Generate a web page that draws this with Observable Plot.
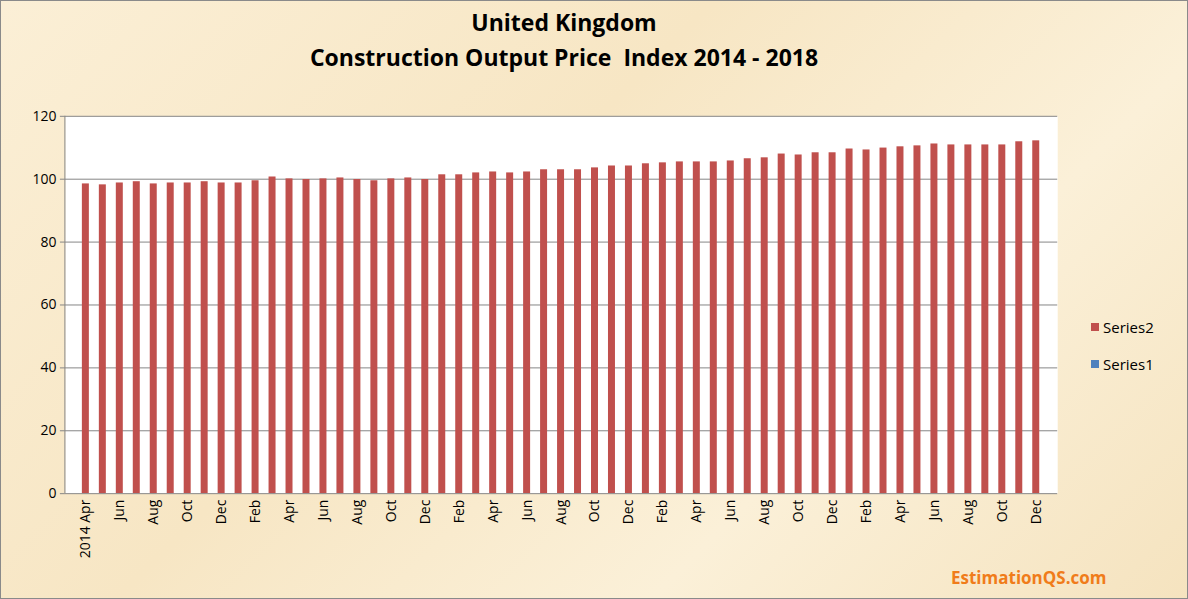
<!DOCTYPE html>
<html><head><meta charset="utf-8">
<script src="https://cdn.jsdelivr.net/npm/d3@7"></script>
<script src="https://cdn.jsdelivr.net/npm/@observablehq/plot@0.6"></script>
<style>
body{margin:0;background:#fff;}
#wrap{position:relative;width:1186px;height:597px;border:1px solid #8a8a8a;background:linear-gradient(135deg,#fbefd6,#f7e6c4 40%,#fbf0d8 70%,#f5e3bf);font-family:"Open Sans",sans-serif;overflow:hidden}
#title{position:absolute;top:4px;left:0;width:1126px;text-align:center;font-weight:bold;font-size:23px;line-height:35px;color:#000}
#legend{position:absolute;left:1090px;top:316px;font-size:15px}
#legend div{display:flex;align-items:center;margin-bottom:17px}
#legend span.sw{display:inline-block;width:8px;height:8px;margin-right:4px}
#credit{position:absolute;left:950px;top:565px;color:#f07c1a;font-weight:bold;font-size:17px}
#chart{position:absolute;left:0;top:0}
</style></head><body>
<div id="wrap">
<div id="chart"></div>
<div id="title">United Kingdom<br>Construction Output Price &nbsp;Index 2014 - 2018</div>
<div id="legend"><div><span class="sw" style="background:#c0504d"></span>Series2</div><div><span class="sw" style="background:#4f81bd"></span>Series1</div></div>
<div id="credit">EstimationQS.com</div>
</div>
<script>
const monthNames = ["Jan","Feb","Mar","Apr","May","Jun","Jul","Aug","Sep","Oct","Nov","Dec"];
const firstLabel = "2014 Apr";
const values = [98.5,98.2,98.8,99.2,98.5,98.8,98.8,99.2,98.8,98.8,99.5,100.7,100.1,99.9,100.1,100.4,99.9,99.5,100.1,100.4,99.9,101.4,101.4,102,102.3,102,102.3,103,
103,103,103.6,104.2,104.2,104.9,105.2,105.5,105.5,105.5,105.8,106.5,106.8,108,107.7,108.4,108.4,109.6,109.3,109.9,110.3,110.6,111.2,110.9,110.9,110.9,110.9,111.9,112.2];
const labels = values.map((_, i) => i === 0 ? firstLabel : monthNames[(3 + i) % 12]);
const data = values.map((v, i) => ({i, v}));
const chart = Plot.plot({
  width: 1188, height: 599,
  marginLeft: 64, marginRight: 130, marginTop: 115, marginBottom: 106,
  style: {fontFamily: "Open Sans, sans-serif", fontSize: "14px", background: "transparent", color: "#000"},
  x: {type: "band", domain: d3.range(values.length), paddingInner: 0.58, paddingOuter: 0.29, label: null,
      tickFormat: i => labels[i], ticks: d3.range(0, values.length, 2), tickRotate: -90, tickSize: 0, tickPadding: 6},
  y: {domain: [0, 120], ticks: d3.range(0, 121, 20), label: null, tickSize: 5, tickPadding: 6},
  marks: [
    Plot.frame({fill: "white", stroke: null}),
    Plot.gridY({ticks: d3.range(20, 121, 20), stroke: "#868686", strokeOpacity: 1}),
    Plot.barY(data, {x: "i", y: "v", fill: "#c0504d"}),
    Plot.ruleY([0], {stroke: "#868686"}),
    Plot.axisY({ticks: d3.range(0, 121, 20), tickSize: 5, stroke: "#868686"})
  ]
});
const svg = d3.select(chart);
svg.append("line").attr("x1", 64).attr("x2", 64).attr("y1", 115).attr("y2", 493).attr("stroke", "#868686");
document.getElementById("chart").appendChild(chart);
</script>
</body></html>
